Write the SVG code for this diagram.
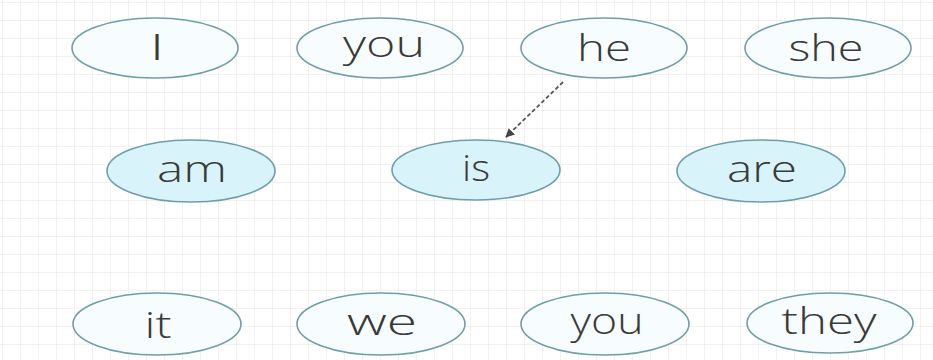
<svg xmlns="http://www.w3.org/2000/svg" width="933" height="360" viewBox="0 0 933 360">
  <style>
    .n ellipse { stroke: #6f9ea9; stroke-width: 1.6; }
    .light ellipse { fill: #f7fdff; }
    .mid ellipse { fill: #d8f4fa; }
    .n text { font-family: "Open Sans", "Liberation Sans", Arial, sans-serif; font-weight: 300; font-size: 36px; fill: #3a3a3a; text-anchor: middle; }
    .conn { stroke: #555; stroke-width: 1.8; stroke-dasharray: 4 2.5; fill: none; }
  </style>
  <defs>
    <pattern id="grid" x="2" y="2" width="18" height="18" patternUnits="userSpaceOnUse">
      <path d="M0 0H18M0 0V18" stroke="#e4e4e4" stroke-width="1" fill="none"/>
    </pattern>
    <marker id="arr" viewBox="0 0 10 10" refX="9" refY="5" markerWidth="5" markerHeight="5" orient="auto" markerUnits="strokeWidth">
      <path d="M0 0L10 5L0 10z" fill="#444"/>
    </marker>
  </defs>
  <rect width="933" height="360" fill="#fff"/>
  <rect width="933" height="360" fill="url(#grid)"/>

  <g id="n-I" class="n light"><ellipse cx="155" cy="48" rx="83" ry="30"/><text x="157" y="60" style="font-weight:400">I</text></g>
  <g id="n-you1" class="n light"><ellipse cx="380" cy="48" rx="83" ry="30"/><text x="384" y="57" textLength="82" lengthAdjust="spacingAndGlyphs">you</text></g>
  <g id="n-he" class="n light"><ellipse cx="604" cy="48" rx="83" ry="30"/><text x="604" y="61" textLength="54" lengthAdjust="spacingAndGlyphs">he</text></g>
  <g id="n-she" class="n light"><ellipse cx="828" cy="48" rx="83" ry="30"/><text x="826" y="61" textLength="75" lengthAdjust="spacingAndGlyphs">she</text></g>

  <g id="n-am" class="n mid"><ellipse cx="191" cy="171" rx="84" ry="31"/><text x="192" y="182" textLength="70" lengthAdjust="spacingAndGlyphs">am</text></g>
  <g id="n-is" class="n mid"><ellipse cx="476" cy="170" rx="84" ry="30"/><text x="476" y="181" textLength="28" lengthAdjust="spacingAndGlyphs">is</text></g>
  <g id="n-are" class="n mid"><ellipse cx="761" cy="171" rx="84" ry="31"/><text x="762" y="182" textLength="70" lengthAdjust="spacingAndGlyphs">are</text></g>

  <g id="n-it" class="n light"><ellipse cx="157" cy="324" rx="84" ry="31"/><text x="158" y="338" textLength="27" lengthAdjust="spacingAndGlyphs">it</text></g>
  <g id="n-we" class="n light"><ellipse cx="381" cy="324" rx="84" ry="31"/><text x="382" y="335" textLength="70" lengthAdjust="spacingAndGlyphs">we</text></g>
  <g id="n-you2" class="n light"><ellipse cx="605" cy="324" rx="84" ry="31"/><text x="607" y="334" textLength="73" lengthAdjust="spacingAndGlyphs">you</text></g>
  <g id="n-they" class="n light"><ellipse cx="830" cy="323" rx="83" ry="30"/><text x="829" y="334" textLength="95" lengthAdjust="spacingAndGlyphs">they</text></g>

  <g id="connectors">
    <line class="conn" x1="563" y1="82" x2="506" y2="137" marker-end="url(#arr)"/>
  </g>
</svg>
